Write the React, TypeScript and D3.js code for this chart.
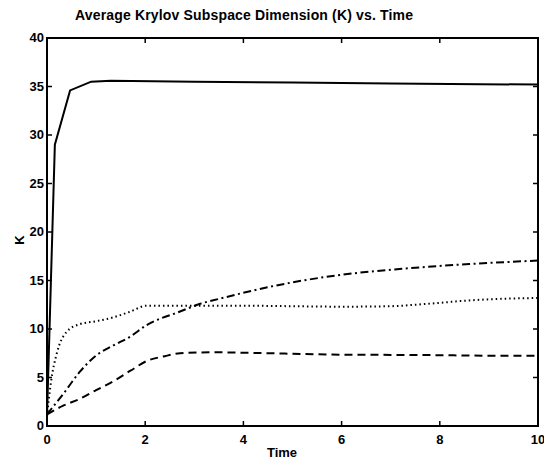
import React from "react";
import * as d3 from "d3";

const title = "Average Krylov Subspace Dimension (K) vs. Time";
const xTicks = [0, 2, 4, 6, 8, 10];
const yTicks = [0, 5, 10, 15, 20, 25, 30, 35, 40];

const solidT = [0, 0.16, 0.47, 0.9, 1.3, 3, 5, 7, 10];
const solidK = [1, 29, 34.6, 35.5, 35.6, 35.5, 35.4, 35.3, 35.2];

const dottedT = [0, 0.08, 0.2, 0.4, 0.67, 1.0, 1.35, 1.7, 2.03, 3, 4, 5, 6, 7, 7.5, 8, 8.6, 9.2, 10];
const dottedK = [1, 4.5, 7.5, 9.7, 10.5, 10.8, 11.2, 11.8, 12.4, 12.4, 12.4, 12.35, 12.3, 12.35, 12.5, 12.7, 12.95, 13.1, 13.2];

const dashdotT = [0, 0.33, 0.67, 1.01, 1.35, 1.69, 2.03, 2.71, 3.12, 3.5, 4.49, 5.86, 7.23, 8.6, 10];
const dashdotK = [1.2, 3.3, 5.6, 7.3, 8.3, 9.2, 10.4, 11.8, 12.6, 13.1, 14.3, 15.5, 16.2, 16.7, 17.05];

const dashedT = [0, 0.33, 0.67, 1.0, 1.35, 1.7, 2.03, 2.4, 2.71, 3.4, 4, 5, 6, 7, 8, 9, 10];
const dashedK = [1.2, 2.1, 2.8, 3.7, 4.6, 5.7, 6.7, 7.2, 7.5, 7.6, 7.55, 7.45, 7.35, 7.33, 7.3, 7.25, 7.25];

const series = [
  { t: solidT, k: solidK, dash: "", curve: d3.curveLinear },
  { t: dottedT, k: dottedK, dash: "1.5,3", curve: d3.curveMonotoneX },
  { t: dashdotT, k: dashdotK, dash: "8,3.5,2,3.5", curve: d3.curveMonotoneX },
  { t: dashedT, k: dashedK, dash: "8,5", curve: d3.curveMonotoneX },
];

export default function App() {
  const W = 544, H = 459;
  const x = d3.scaleLinear().domain([0, 10]).range([47, 538]);
  const y = d3.scaleLinear().domain([0, 40]).range([426, 38]);
  const font = "Liberation Sans, Arial, Helvetica, sans-serif";
  const tl = 5;
  return (
    <svg width={W} height={H} style={{ position: "absolute", left: 0, top: 0, background: "#fff" }}>
      <text x={75} y={20} fontFamily={font} fontSize={14} fontWeight="bold" fill="#000" textLength={338}>{title}</text>
      {series.map((s, i) => {
        const pts = s.t.map((t, j) => [t, s.k[j]] as [number, number]);
        const line = d3.line<[number, number]>().x(d => x(d[0])).y(d => y(d[1])).curve(s.curve);
        return <path key={i} d={line(pts) || ""} fill="none" stroke="#000" strokeWidth={2} strokeDasharray={s.dash || undefined} />;
      })}
      <rect x={x(0)} y={y(40)} width={x(10) - x(0)} height={y(0) - y(40)} fill="none" stroke="#000" strokeWidth={2} />
      {xTicks.map(t => (
        <g key={"x" + t}>
          <line x1={x(t)} x2={x(t)} y1={y(0)} y2={y(0) - tl} stroke="#000" strokeWidth={1.5} />
          <line x1={x(t)} x2={x(t)} y1={y(40)} y2={y(40) + tl} stroke="#000" strokeWidth={1.5} />
          <text x={x(t)} y={444} textAnchor="middle" fontFamily={font} fontSize={13} fontWeight="bold">{t}</text>
        </g>
      ))}
      {yTicks.map(v => (
        <g key={"y" + v}>
          <line x1={x(0)} x2={x(0) + tl} y1={y(v)} y2={y(v)} stroke="#000" strokeWidth={1.5} />
          <line x1={x(10)} x2={x(10) - tl} y1={y(v)} y2={y(v)} stroke="#000" strokeWidth={1.5} />
          <text x={44} y={y(v) + 4} textAnchor="end" fontFamily={font} fontSize={13} fontWeight="bold">{v}</text>
        </g>
      ))}
      <text x={282} y={457} textAnchor="middle" fontFamily={font} fontSize={13} fontWeight="bold">Time</text>
      <text transform={`translate(24,240) rotate(-90)`} textAnchor="middle" fontFamily={font} fontSize={13} fontWeight="bold">K</text>
    </svg>
  );
}
